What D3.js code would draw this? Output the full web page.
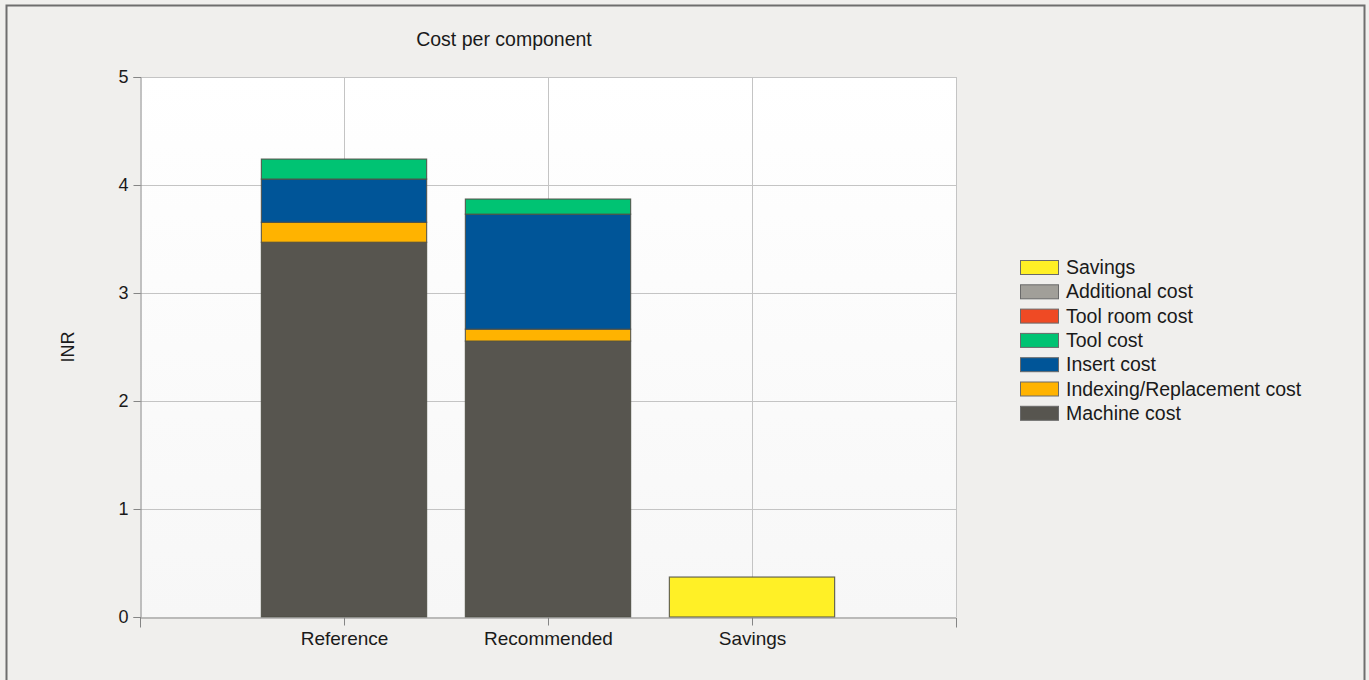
<!DOCTYPE html>
<html><head><meta charset="utf-8">
<script src="https://cdn.jsdelivr.net/npm/d3@7"></script>
<style>
html,body{margin:0;padding:0;background:#f0efed;}
svg{display:block;font-family:"Liberation Sans",Arial,sans-serif;}
</style></head>
<body>
<svg id="chart" width="1369" height="680"></svg>
<script>
const categories = ["Reference", "Recommended", "Savings"];
const seriesNames = ["Machine cost", "Indexing/Replacement cost", "Insert cost", "Tool cost", "Tool room cost", "Additional cost", "Savings"];
const machineCost = [3.47, 2.555, 0];
const indexingCost = [0.185, 0.11, 0];
const insertCost = [0.40, 1.065, 0];
const toolCost = [0.185, 0.14, 0];
const toolRoomCost = [0, 0, 0];
const additionalCost = [0, 0, 0];
const savings = [0, 0, 0.37];
const seriesColors = ["#57554f", "#ffb300", "#005598", "#00c373", "#ef4a24", "#a19f99", "#fff026"];
const yTicks = [0, 1, 2, 3, 4, 5];
const title = "Cost per component";
const yTitle = "INR";

const seriesValues = [machineCost, indexingCost, insertCost, toolCost, toolRoomCost, additionalCost, savings];
const rows = categories.map((c, i) => {
  const r = {category: c};
  seriesNames.forEach((s, k) => r[s] = seriesValues[k][i]);
  return r;
});

const svg = d3.select("#chart");
const m = {left: 140, right: 956, top: 77, bottom: 617};

// outer frame
svg.append("rect").attr("x", 6.5).attr("y", 5.5).attr("width", 1358).attr("height", 700)
  .attr("fill", "#f0efed").attr("stroke", "#6e6e6e").attr("stroke-width", 2);

// plot background gradient
const defs = svg.append("defs");
const grad = defs.append("linearGradient").attr("id", "bg").attr("x1", 0).attr("y1", 0).attr("x2", 0).attr("y2", 1);
grad.append("stop").attr("offset", "0%").attr("stop-color", "#ffffff");
grad.append("stop").attr("offset", "100%").attr("stop-color", "#f7f7f7");
svg.append("rect").attr("x", m.left).attr("y", m.top).attr("width", m.right - m.left).attr("height", m.bottom - m.top)
  .attr("fill", "url(#bg)");

const x = d3.scalePoint().domain(categories).range([m.left, m.right]).padding(1);
const y = d3.scaleLinear().domain([0, 5]).range([m.bottom, m.top]);
const barW = x.step() * 0.81;

// gridlines
const grid = svg.append("g").attr("stroke", "#c4c4c4").attr("stroke-width", 1);
yTicks.filter(t => t > 0).forEach(t => {
  grid.append("line").attr("x1", m.left).attr("x2", m.right).attr("y1", Math.round(y(t)) + 0.5).attr("y2", Math.round(y(t)) + 0.5);
});
categories.forEach(c => {
  grid.append("line").attr("x1", Math.round(x(c)) + 0.5).attr("x2", Math.round(x(c)) + 0.5).attr("y1", m.top).attr("y2", m.bottom);
});
grid.append("line").attr("x1", m.right + 0.5).attr("x2", m.right + 0.5).attr("y1", m.top).attr("y2", m.bottom);

// bars
const stack = d3.stack().keys(seriesNames);
const stacked = stack(rows);
const barsG = svg.append("g");
stacked.forEach((layer, k) => {
  barsG.selectAll(null).data(layer.filter(d => d[1] - d[0] > 0)).enter().append("rect")
    .attr("x", d => x(d.data.category) - barW / 2)
    .attr("y", d => y(d[1]))
    .attr("width", barW)
    .attr("height", d => y(d[0]) - y(d[1]))
    .attr("fill", seriesColors[k])
    .attr("stroke", "#4f4f45")
    .attr("stroke-opacity", 0.85)
    .attr("stroke-width", 1.2);
});

// axes
const yAxis = d3.axisLeft(y).tickValues(yTicks).tickSize(7).tickPadding(5).tickFormat(d3.format("d"));
const yg = svg.append("g").attr("transform", `translate(${m.left + 0.5},0)`).call(yAxis);
yg.select(".domain").attr("stroke", "#858585");
yg.selectAll(".tick line").attr("stroke", "#858585");
yg.selectAll(".tick text").attr("font-size", 18).attr("fill", "#1a1a1a").attr("font-family", "Liberation Sans, Arial, sans-serif");

const xAxis = d3.axisBottom(x).tickSize(8).tickPadding(6).tickSizeOuter(10);
const xg = svg.append("g").attr("transform", `translate(0,${m.bottom + 0.5})`).call(xAxis);
xg.select(".domain").attr("stroke", "#858585");
xg.selectAll(".tick line").attr("stroke", "#858585");
xg.selectAll(".tick text").attr("font-size", 19).attr("fill", "#1a1a1a").attr("font-family", "Liberation Sans, Arial, sans-serif");

// titles
svg.append("text").attr("x", 504).attr("y", 46).attr("text-anchor", "middle")
  .attr("font-size", 19.5).attr("fill", "#1a1a1a").text(title);
svg.append("text").attr("transform", `translate(74,${(m.top + m.bottom) / 2}) rotate(-90)`).attr("text-anchor", "middle")
  .attr("font-size", 18).attr("fill", "#1a1a1a").text(yTitle);

// legend (reverse order)
const legendOrder = seriesNames.slice().reverse();
const lg = svg.append("g").attr("transform", "translate(1020,260)");
legendOrder.forEach((name, i) => {
  const k = seriesNames.indexOf(name);
  const g = lg.append("g").attr("transform", `translate(0,${i * 24.3})`);
  g.append("rect").attr("x", 0.5).attr("y", 0.5).attr("width", 38).attr("height", 14)
    .attr("fill", seriesColors[k]).attr("stroke", "#6a6a6a").attr("stroke-width", 1);
  g.append("text").attr("x", 46).attr("y", 14).attr("font-size", 19.5).attr("fill", "#1a1a1a").text(name);
});
</script>
</body></html>
